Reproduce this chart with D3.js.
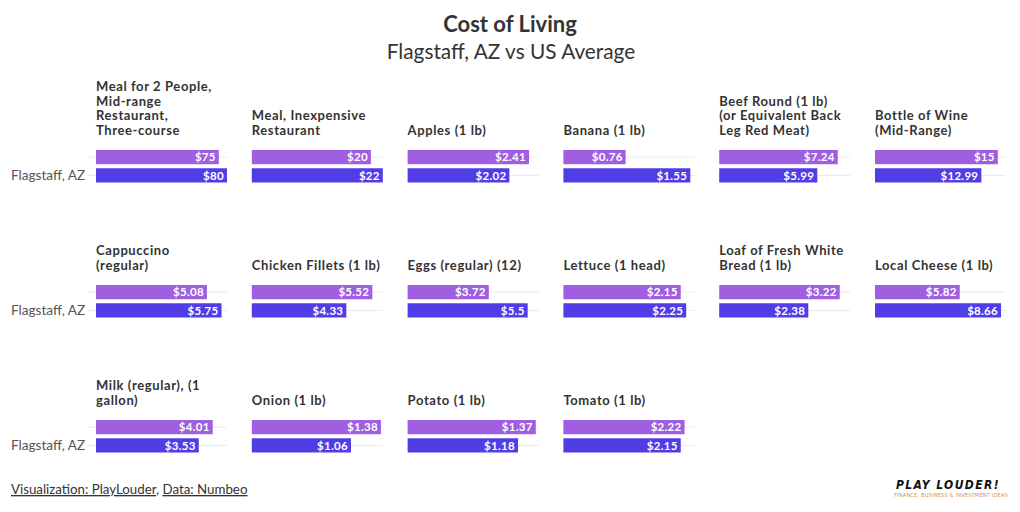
<!DOCTYPE html>
<html>
<head>
<meta charset="utf-8">
<script src="https://cdn.jsdelivr.net/npm/d3@7"></script>
<style>
	body { margin: 0; background: #fff; }
	svg text { font-family: Lato, "Noto Sans", sans-serif; }
</style>
</head>
<body>
<svg width="1020" height="512"></svg>
<script>
// items, with the line breaks used in the panel headers
var categories = [
	'Meal for 2 People,|Mid-range|Restaurant,|Three-course',
	'Meal, Inexpensive|Restaurant',
	'Apples (1 lb)',
	'Banana (1 lb)',
	'Beef Round (1 lb)|(or Equivalent Back|Leg Red Meat)',
	'Bottle of Wine|(Mid-Range)',
	'Cappuccino|(regular)',
	'Chicken Fillets (1 lb)',
	'Eggs (regular) (12)',
	'Lettuce (1 head)',
	'Loaf of Fresh White|Bread (1 lb)',
	'Local Cheese (1 lb)',
	'Milk (regular), (1|gallon)',
	'Onion (1 lb)',
	'Potato (1 lb)',
	'Tomato (1 lb)'
];

var series = ['US Average', 'Flagstaff, AZ'];

var usAverage = [75, 20, 2.41, 0.76, 7.24, 15, 5.08, 5.52, 3.72, 2.15, 3.22, 5.82, 4.01, 1.38, 1.37, 2.22];
var flagstaff = [80, 22, 2.02, 1.55, 5.99, 12.99, 5.75, 4.33, 5.5, 2.25, 2.38, 8.66, 3.53, 1.06, 1.18, 2.15];

// each panel has its own x range
var axisMax = [80, 22, 2.6, 1.6, 8, 16, 6, 6, 6, 2.4, 3.5, 9, 4.5, 1.4, 1.4, 2.4];

var chart = {
	cols: 6,
	left: 96,
	colStep: 155.8,
	panelW: 131,
	firstBar: 150,
	rowStep: 135,
	colors: ['#a05fe1', '#513de6']
};

var svg = d3.select('svg');

// header
svg.append('text')
	.attr('x', 510).attr('y', 31.5)
	.attr('text-anchor', 'middle')
	.attr('font-size', 22).attr('font-weight', 'bold')
	.attr('fill', '#333')
	.text('Cost of Living');

svg.append('text')
	.attr('x', 511).attr('y', 58.5)
	.attr('text-anchor', 'middle')
	.attr('font-size', 20.8)
	.attr('fill', '#333')
	.text('Flagstaff, AZ vs US Average');

var fmt = function(v){ return '$' + v; };

categories.forEach(function(cat, i){
	var col = i % chart.cols,
		row = Math.floor(i / chart.cols);
	var x0 = chart.left + col * chart.colStep,
		y0 = chart.firstBar + row * chart.rowStep;

	var x = d3.scaleLinear().domain([0, axisMax[i]]).range([0, chart.panelW]);
	var y = d3.scaleBand().domain(series).range([y0, y0 + 32.5]).paddingInner(0.22);

	var g = svg.append('g').attr('transform', 'translate(' + x0 + ',0)');
	var vals = [usAverage[i], flagstaff[i]];

	//panel header, bottom aligned
	var lines = cat.split('|');
	var head = g.append('text')
		.attr('font-size', 13).attr('font-weight', 'bold')
		.attr('letter-spacing', 0.6)
		.attr('fill', '#333');
	lines.forEach(function(l, k){
		head.append('tspan')
			.attr('x', 0)
			.attr('y', y0 - 15.5 - (lines.length - 1 - k) * 14.5)
			.text(l);
	});

	//row lines
	g.selectAll('line.grid')
		.data(series)
		.enter()
		.append('line')
		.attr('class', 'grid')
		.attr('x1', col == 0 ? -8 : 0)
		.attr('x2', chart.panelW)
		.attr('y1', function(d){ return y(d) + y.bandwidth() / 2; })
		.attr('y2', function(d){ return y(d) + y.bandwidth() / 2; })
		.attr('stroke', '#e9e9f0');

	g.selectAll('rect')
		.data(vals)
		.enter()
		.append('rect')
		.attr('x', 0)
		.attr('y', function(d, k){ return y(series[k]); })
		.attr('width', function(d){ return x(d); })
		.attr('height', y.bandwidth())
		.attr('fill', function(d, k){ return chart.colors[k]; });

	g.selectAll('text.val')
		.data(vals)
		.enter()
		.append('text')
		.attr('class', 'val')
		.attr('x', function(d){ return x(d) - 3; })
		.attr('y', function(d, k){ return y(series[k]) + y.bandwidth() / 2; })
		.attr('dy', '0.36em')
		.attr('text-anchor', 'end')
		.attr('font-size', 11.5).attr('font-weight', 'bold')
		.attr('letter-spacing', 0.3)
		.attr('fill', '#fff')
		.text(fmt);

	//row label only next to the first column
	if(col == 0){
		g.append('text')
			.attr('x', 11 - x0)
			.attr('y', y('Flagstaff, AZ') + y.bandwidth() / 2)
			.attr('dy', '0.36em')
			.attr('font-size', 13.6)
			.attr('fill', '#555')
			.text('Flagstaff, AZ');
	}
});

// footer
var foot = svg.append('text')
	.attr('x', 11).attr('y', 494)
	.attr('font-size', 13.3)
	.attr('fill', '#333');
foot.append('tspan').attr('text-decoration', 'underline').text('Visualization: PlayLouder');
foot.append('tspan').text(', ');
foot.append('tspan').attr('text-decoration', 'underline').text('Data: Numbeo');

svg.append('text')
	.attr('x', 1000).attr('y', 489)
	.attr('text-anchor', 'end')
	.style('font-family', '"DejaVu Sans Condensed", "DejaVu Sans", sans-serif')
	.attr('font-size', 12).attr('font-weight', 'bold').attr('font-style', 'italic')
	.attr('letter-spacing', 1.4)
	.attr('fill', '#111')
	.text('PLAY LOUDER!');

svg.append('text')
	.attr('x', 1008).attr('y', 497)
	.attr('text-anchor', 'end')
	.style('font-family', '"DejaVu Sans Condensed", "DejaVu Sans", sans-serif')
	.attr('font-size', 5.6)
	.attr('letter-spacing', 0.2)
	.attr('fill', '#d8924a')
	.text('FINANCE, BUSINESS & INVESTMENT IDEAS');
</script>
</body>
</html>
